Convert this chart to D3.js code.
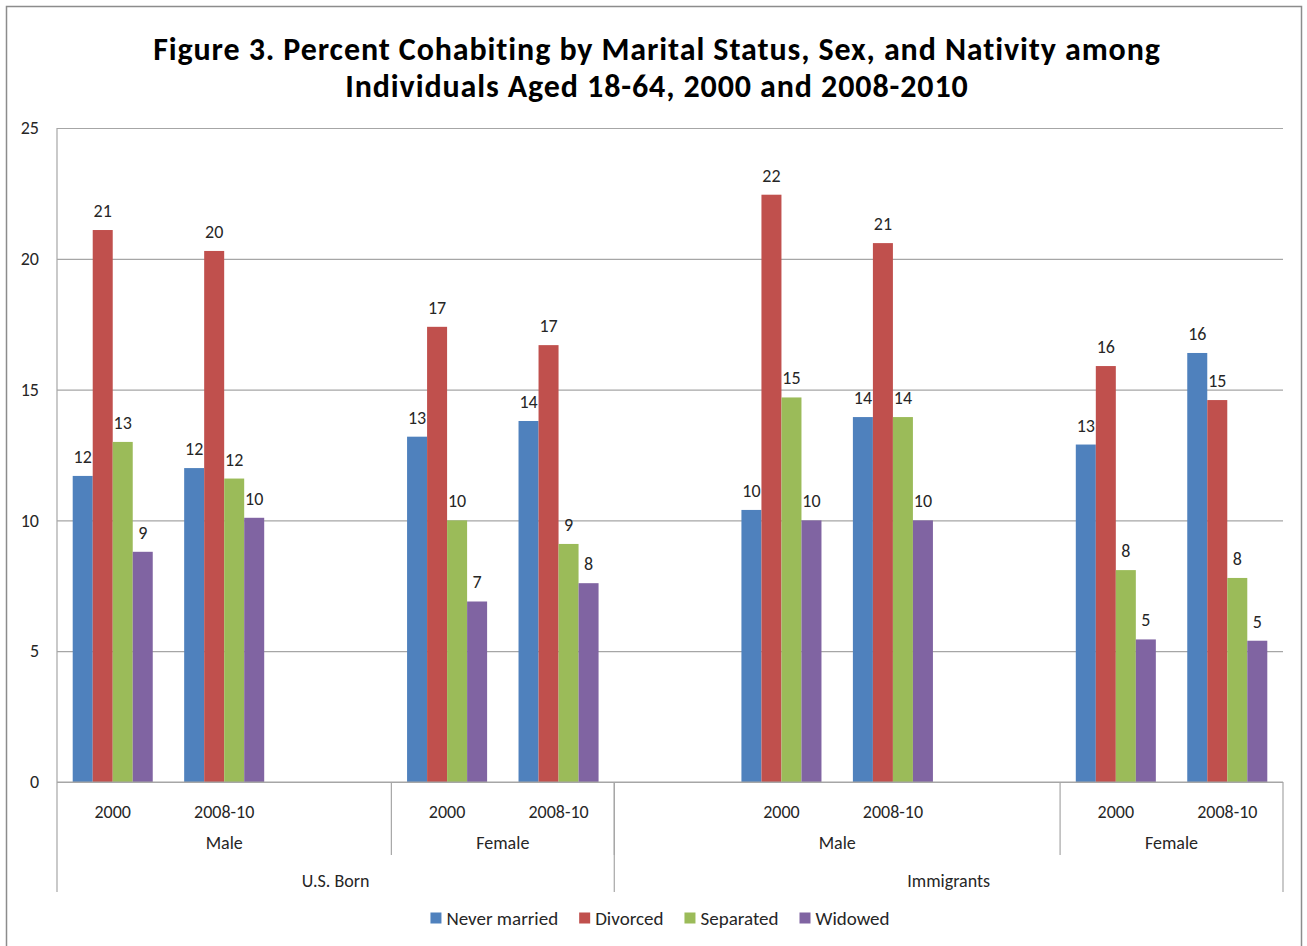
<!DOCTYPE html>
<html>
<head>
<meta charset="utf-8">
<script src="https://cdn.jsdelivr.net/npm/d3@7"></script>
<style>
  body { margin: 0; background: #fff; }
  text { font-family: Calibri, Carlito, Lato, sans-serif; fill: #262626; }
</style>
</head>
<body>
<div id="chart-container"></div>
<script>
// Category levels (11 slots, blanks are empty categories as in the source sheet)
const years = ["2000", "2008-10", "", "2000", "2008-10", "", "2000", "2008-10", "", "2000", "2008-10"];
const sexGroups = [
    { label: "Male", from: 0, to: 3 },
    { label: "Female", from: 3, to: 5 },
    { label: "Male", from: 5, to: 9 },
    { label: "Female", from: 9, to: 11 }
];
const nativityGroups = [
    { label: "U.S. Born", from: 0, to: 5 },
    { label: "Immigrants", from: 5, to: 11 }
];

// Series values (percent), null where the category is blank
const seriesNames = ["Never married", "Divorced", "Separated", "Widowed"];
const neverMarried = [11.7, 12.0, null, 13.2, 13.8, null, 10.4, 13.95, null, 12.9, 16.4];
const divorced     = [21.1, 20.3, null, 17.4, 16.7, null, 22.45, 20.6, null, 15.9, 14.6];
const separated    = [13.0, 11.6, null, 10.0, 9.1, null, 14.7, 13.95, null, 8.1, 7.8];
const widowed      = [8.8, 10.1, null, 6.9, 7.6, null, 10.0, 10.0, null, 5.45, 5.4];
const seriesColors = ["#4F81BD", "#C0504D", "#9BBB59", "#8064A2"];
const yTicks = [0, 5, 10, 15, 20, 25];

const titleLines = [
    "Figure 3. Percent Cohabiting by Marital Status, Sex, and Nativity among",
    "Individuals Aged 18-64, 2000 and 2008-2010"
];

const seriesValues = [neverMarried, divorced, separated, widowed];

// Flatten into bar records
const bars = [];
seriesValues.forEach((vals, s) => {
    vals.forEach((v, i) => {
        if (v !== null) bars.push({ series: seriesNames[s], cat: i, value: v, color: seriesColors[s] });
    });
});

const W = 1307, H = 946;
const plot = { left: 57, right: 1283, top: 128, bottom: 782 };
const fontSize = "18px";

const svg = d3.select("#chart-container")
    .append("svg")
    .attr("width", W)
    .attr("height", H);

// Chart frame
svg.append("rect")
    .attr("x", 6.5).attr("y", 6.5)
    .attr("width", 1295).attr("height", 960)
    .attr("fill", "#fff")
    .attr("stroke", "#8c8c8c")
    .attr("stroke-width", 1.5);

// Title
svg.selectAll(".title")
    .data(titleLines)
    .enter()
    .append("text")
    .attr("class", "title")
    .attr("x", 657)
    .attr("y", (d, i) => 60 + i * 37)
    .attr("text-anchor", "middle")
    .attr("font-size", "32px")
    .attr("font-weight", "bold")
    .attr("letter-spacing", "0.9px")
    .style("fill", "#000")
    .text(d => d);

// Scales
const x = d3.scaleBand()
    .domain(d3.range(years.length))
    .range([plot.left, plot.right])
    .paddingInner(0)
    .paddingOuter(0);

const x1 = d3.scaleBand()
    .domain(seriesNames)
    .range([0, x.bandwidth()])
    .paddingOuter(0.785);

const y = d3.scaleLinear()
    .domain([0, 25])
    .range([plot.bottom, plot.top]);

// Gridlines + y labels
const yAxis = svg.append("g")
    .attr("transform", `translate(${plot.left},0)`)
    .call(d3.axisLeft(y).tickValues(yTicks).tickSize(-(plot.right - plot.left)).tickPadding(18));
yAxis.select(".domain").remove();
yAxis.selectAll(".tick line").attr("stroke", "#a6a6a6").attr("stroke-width", 1.2);
yAxis.selectAll(".tick text")
    .attr("font-size", fontSize)
    .attr("font-family", "Calibri, Carlito, Lato, sans-serif")
    .style("fill", "#262626");

// Vertical axis line
svg.append("line")
    .attr("x1", plot.left).attr("x2", plot.left)
    .attr("y1", plot.top).attr("y2", plot.bottom)
    .attr("stroke", "#a6a6a6").attr("stroke-width", 1.2);

// Bars
svg.selectAll(".bar")
    .data(bars)
    .enter()
    .append("rect")
    .attr("class", "bar")
    .attr("x", d => x(d.cat) + x1(d.series))
    .attr("y", d => y(d.value))
    .attr("width", x1.bandwidth())
    .attr("height", d => y(0) - y(d.value))
    .attr("fill", d => d.color);

// Value labels
svg.selectAll(".value-label")
    .data(bars)
    .enter()
    .append("text")
    .attr("class", "value-label")
    .attr("x", d => x(d.cat) + x1(d.series) + x1.bandwidth() / 2)
    .attr("y", d => y(d.value) - 13)
    .attr("text-anchor", "middle")
    .attr("font-size", fontSize)
    .text(d => Math.round(d.value));

// Category axis baseline
svg.append("line")
    .attr("x1", plot.left).attr("x2", plot.right)
    .attr("y1", y(0)).attr("y2", y(0))
    .attr("stroke", "#a6a6a6").attr("stroke-width", 1.2);

// Year labels
svg.selectAll(".year-label")
    .data(years)
    .enter()
    .append("text")
    .attr("class", "year-label")
    .attr("x", (d, i) => x(i) + x.bandwidth() / 2)
    .attr("y", 818)
    .attr("text-anchor", "middle")
    .attr("font-size", fontSize)
    .text(d => d);

// Sex labels + separators
svg.selectAll(".sex-label")
    .data(sexGroups)
    .enter()
    .append("text")
    .attr("class", "sex-label")
    .attr("x", d => (x(d.from) + x(d.to - 1) + x.bandwidth()) / 2)
    .attr("y", 849)
    .attr("text-anchor", "middle")
    .attr("font-size", fontSize)
    .text(d => d.label);

svg.selectAll(".sex-sep")
    .data(sexGroups.slice(1))
    .enter()
    .append("line")
    .attr("x1", d => x(d.from)).attr("x2", d => x(d.from))
    .attr("y1", y(0)).attr("y2", 855)
    .attr("stroke", "#a6a6a6").attr("stroke-width", 1.2);

// Nativity labels + separators
svg.selectAll(".nat-label")
    .data(nativityGroups)
    .enter()
    .append("text")
    .attr("class", "nat-label")
    .attr("x", d => (x(d.from) + x(d.to - 1) + x.bandwidth()) / 2)
    .attr("y", 887)
    .attr("text-anchor", "middle")
    .attr("font-size", fontSize)
    .text(d => d.label);

const natEdges = [nativityGroups[0].from, nativityGroups[1].from, years.length];
svg.selectAll(".nat-sep")
    .data(natEdges)
    .enter()
    .append("line")
    .attr("x1", d => d < years.length ? x(d) : plot.right)
    .attr("x2", d => d < years.length ? x(d) : plot.right)
    .attr("y1", y(0)).attr("y2", 892)
    .attr("stroke", "#a6a6a6").attr("stroke-width", 1.2);

// Legend
const legend = svg.append("g").attr("transform", "translate(0,918)");
const items = legend.selectAll(".legend-item")
    .data(seriesNames)
    .enter()
    .append("g")
    .attr("class", "legend-item");
items.append("rect")
    .attr("width", 11).attr("height", 11)
    .attr("y", -5.5)
    .attr("fill", (d, i) => seriesColors[i]);
items.append("text")
    .attr("x", 16)
    .attr("y", 6.5)
    .attr("font-size", "19px")
    .text(d => d);

let offset = 0;
const widths = [];
items.each(function() {
    widths.push(16 + this.querySelector("text").getComputedTextLength());
});
const gap = 21;
const total = d3.sum(widths) + gap * (widths.length - 1);
offset = 660 - total / 2;
items.attr("transform", (d, i) => {
    const t = `translate(${offset},0)`;
    offset += widths[i] + gap;
    return t;
});
</script>
</body>
</html>
